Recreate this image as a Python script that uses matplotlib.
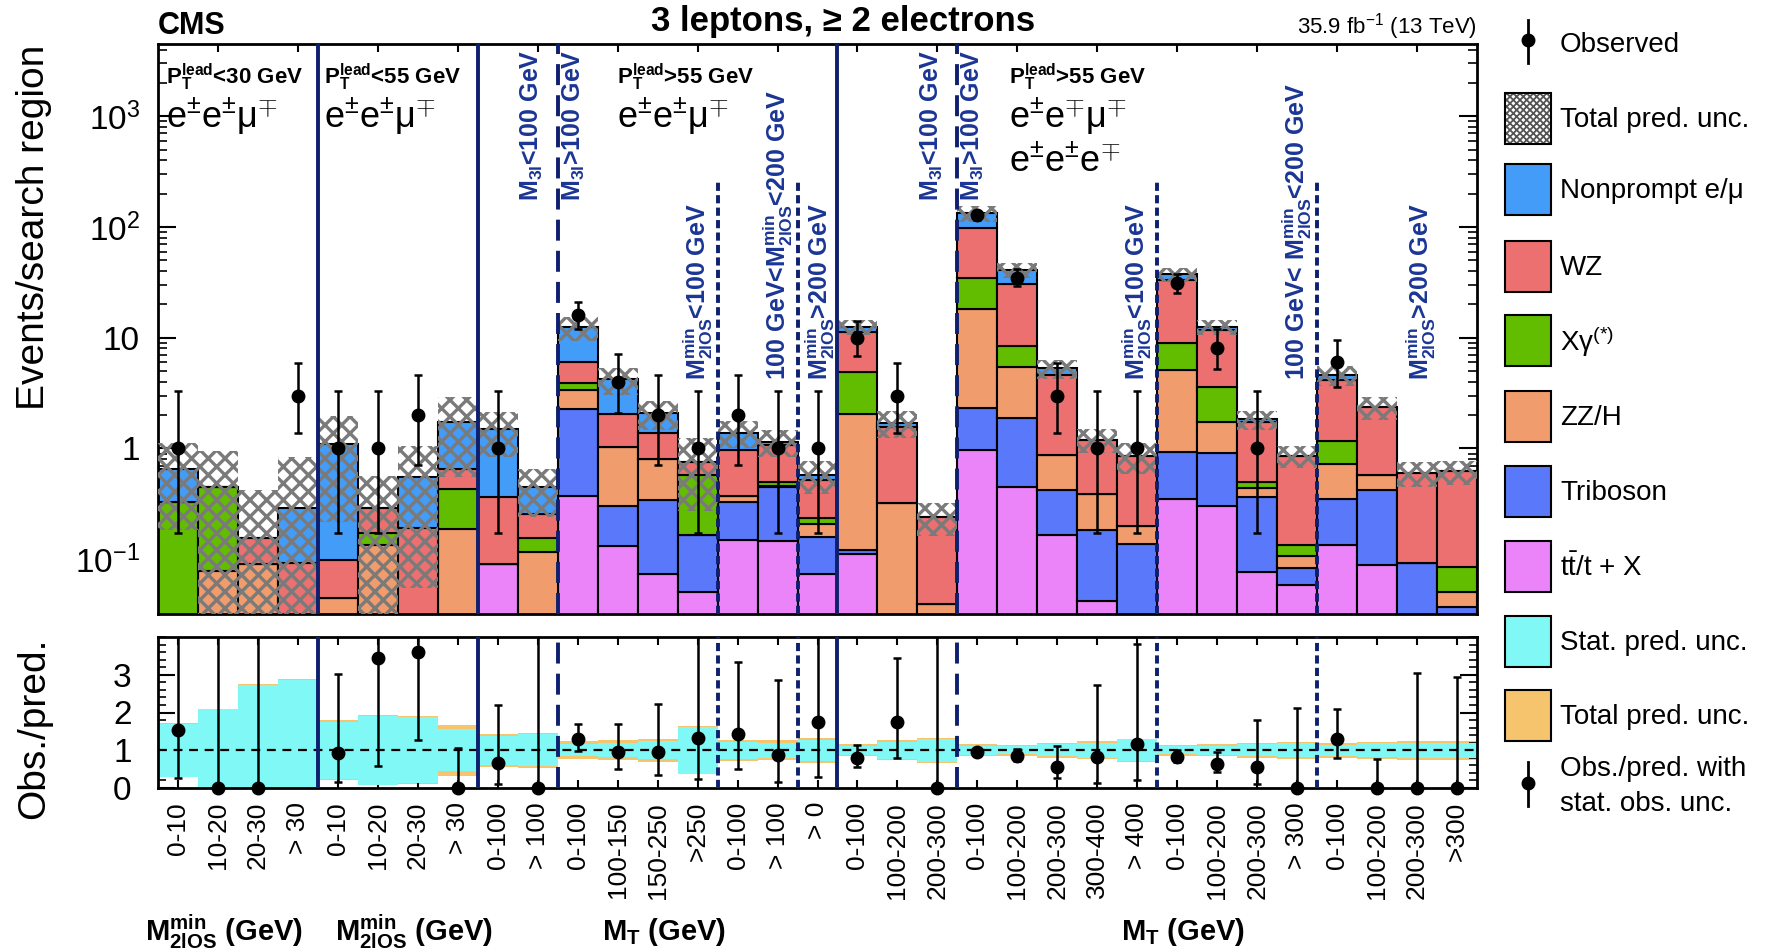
import numpy as np
import matplotlib
matplotlib.use("Agg")
import matplotlib.pyplot as plt
import matplotlib.transforms as mtransforms
from matplotlib.patches import Rectangle
from matplotlib.ticker import FixedLocator, FuncFormatter, LogLocator, MultipleLocator, NullFormatter

plt.rcParams["font.family"] = ["Liberation Sans", "DejaVu Sans"]
plt.rcParams["mathtext.fontset"] = "custom"
plt.rcParams["mathtext.rm"] = "Liberation Sans"
plt.rcParams["mathtext.it"] = "Liberation Sans:italic"
plt.rcParams["mathtext.bf"] = "Liberation Sans:bold"
plt.rcParams["hatch.linewidth"] = 2.4

# ---- data ----
bin_labels = ["0-10", "10-20", "20-30", "> 30",
              "0-10", "10-20", "20-30", "> 30",
              "0-100", "> 100",
              "0-100", "100-150", "150-250", ">250",
              "0-100", "> 100", "> 0",
              "0-100", "100-200", "200-300",
              "0-100", "100-200", "200-300", "300-400", "> 400",
              "0-100", "100-200", "200-300", "> 300",
              "0-100", "100-200", "200-300", ">300"]

observed = [1, 0, 0, 3, 1, 1, 2, 0, 1, 0, 16, 4, 2, 1, 2, 1, 1, 10, 3, 0,
            128, 35, 3, 1, 1, 31, 8, 1, 0, 6, 0, 0, 0]

ttx = [0, 0, 0, 0, 0, 0, 0, 0, 0.09, 0, 0.37, 0.13, 0.072, 0.05, 0.149, 0.144, 0.073,
       0.11, 0, 0, 0.96, 0.45, 0.164, 0.041, 0, 0.35, 0.30, 0.075, 0.058, 0.133, 0.087, 0.02, 0]
triboson = [0, 0, 0, 0, 0, 0, 0, 0, 0, 0, 1.91, 0.17, 0.268, 0.115, 0.181, 0.301, 0.086,
            0.011, 0, 0, 1.34, 1.43, 0.256, 0.142, 0.136, 0.58, 0.61, 0.285, 0.024, 0.217, 0.333, 0.071, 0.036]
zzh = [0, 0.077, 0.09, 0, 0.044, 0.132, 0, 0.187, 0, 0.115, 1.09, 0.72, 0.46, 0, 0.04, 0.01, 0.047,
       1.909, 0.32, 0.038, 16.0, 3.62, 0.45, 0.207, 0.064, 4.17, 0.82, 0.08, 0.023, 0.38, 0.16, 0, 0.014]
xgamma = [0.33, 0.373, 0, 0, 0, 0.039, 0, 0.24, 0, 0.041, 0.53, 0, 0, 0.41, 0, 0.045, 0.028,
          2.9, 0, 0, 16.7, 2.9, 0, 0, 0, 3.8, 1.87, 0.06, 0.029, 0.44, 0, 0, 0.034]
wz = [0, 0, 0.064, 0.092, 0.054, 0.119, 0.19, 0.223, 0.27, 0.098, 2.1, 1.02, 0.57, 0.185, 0.60, 0.57, 0.286,
      6.37, 1.25, 0.203, 63.0, 22.2, 3.73, 0.81, 0.66, 24.1, 8.2, 1.23, 0.726, 2.98, 1.77, 0.509, 0.536]
nonprompt = [0.32, 0, 0, 0.198, 0.992, 0, 0.365, 1.09, 1.13, 0.196, 6.4, 2.16, 0.71, 0, 0.42, 0.08, 0.055,
             1.2, 0.14, 0, 35.0, 10.4, 0.7, 0, 0, 4.3, 0.7, 0.1, 0, 0.45, 0, 0, 0]

# relative half-widths of the prediction bands (ratio panel)
stat_unc = [0.70, 1.08, 1.74, 1.86, 0.76, 0.91, 0.88, 0.56, 0.38, 0.42, 0.16, 0.19, 0.24, 0.62, 0.22, 0.20, 0.28,
            0.12, 0.22, 0.31, 0.12, 0.10, 0.16, 0.20, 0.29, 0.10, 0.12, 0.16, 0.18, 0.15, 0.18, 0.20, 0.20]
total_unc = [0.72, 1.10, 1.76, 1.88, 0.80, 0.93, 0.90, 0.68, 0.44, 0.46, 0.24, 0.27, 0.30, 0.64, 0.28, 0.27, 0.33,
             0.16, 0.27, 0.33, 0.16, 0.15, 0.20, 0.24, 0.31, 0.15, 0.16, 0.20, 0.22, 0.20, 0.23, 0.25, 0.25]

# region boundaries (bin index)
solid_at = [4, 8, 17]
longdash_at = [10, 20]
shortdash_at = [14, 16, 25, 29]

C_NP = "#429cf8"
C_WZ = "#ec7070"
C_XG = "#62bd00"
C_ZZ = "#f09c6c"
C_TRI = "#5a78fa"
C_TTX = "#ea84f8"
C_STAT = "#80f8f6"
C_TOT = "#f7c46e"
NAVY = "#0d1f6e"
NAVY_TXT = "#1a3594"

stack = [(ttx, C_TTX), (triboson, C_TRI), (zzh, C_ZZ),
         (xgamma, C_XG), (wz, C_WZ), (nonprompt, C_NP)]


def poisson_interval(n):
    n = np.asarray(n, float)
    nn = np.maximum(n, 1)
    lo = np.where(n > 0, nn * (1 - 1 / (9 * nn) - 1 / (3 * np.sqrt(nn))) ** 3, 0.0)
    m = n + 1
    hi = m * (1 - 1 / (9 * m) + 1 / (3 * np.sqrt(m))) ** 3
    return lo, hi


W, H = 1771, 950
fig = plt.figure(figsize=(W / 100, H / 100), dpi=100)


def box(l, t, r, b):
    return [l / W, 1 - b / H, (r - l) / W, (b - t) / H]


ax = fig.add_axes(box(158, 44, 1477, 614))
rax = fig.add_axes(box(158, 637, 1477, 788))

n = len(observed)
left = np.arange(n)
x = left + 0.5
floor = 1e-3
YMIN, YMAX = 0.032, 4500

# ---- main panel: stacked prediction ----
cum = np.full(n, floor)
for vals, col in stack:
    v = np.asarray(vals, float)
    ax.bar(left, v, width=1, bottom=cum, align="edge", color=col,
           edgecolor="black", linewidth=1.5, zorder=2)
    cum = cum + v
pred = cum - floor

tot = np.asarray(total_unc)
stat = np.asarray(stat_unc)
lo_band = np.clip(pred * (1 - tot), floor, None)
hi_band = pred * (1 + tot)
ax.bar(left, hi_band - lo_band, bottom=lo_band, width=1, align="edge",
       facecolor="none", edgecolor="#7a7a7a", hatch="xx", linewidth=0, zorder=3)

obs = np.asarray(observed, float)
p_lo, p_hi = poisson_interval(obs)
m = obs > 0
ax.errorbar(x[m], obs[m], yerr=[obs[m] - p_lo[m], p_hi[m] - obs[m]], fmt="o",
            color="black", ms=9, elinewidth=1.8, capsize=3, capthick=1.8, zorder=6)

ax.set_yscale("log")
ax.set_xlim(0, n)
ax.set_ylim(YMIN, YMAX)

for b in solid_at:
    ax.axvline(b, color=NAVY, lw=2.8, zorder=4)
    rax.axvline(b, color=NAVY, lw=2.8, zorder=4)
for b in longdash_at:
    ax.axvline(b, color=NAVY, lw=2.8, ls=(0, (5.4, 2.6)), zorder=4)
    rax.axvline(b, color=NAVY, lw=2.8, ls=(0, (5.4, 2.6)), zorder=4)
for b in shortdash_at:
    ax.plot([b, b], [YMIN, 260], color=NAVY, lw=2.8, ls=(0, (2.1, 1.1)), zorder=4)
    rax.axvline(b, color=NAVY, lw=2.8, ls=(0, (2.1, 1.1)), zorder=4)

ax.xaxis.set_major_locator(FixedLocator(np.arange(1, n, 2) + 0.5))
ax.tick_params(axis="x", which="both", direction="in", top=True, bottom=True,
               length=6, width=1.5, labelbottom=False)
ax.yaxis.set_major_locator(LogLocator(base=10, numticks=10))
ax.yaxis.set_minor_locator(LogLocator(base=10, subs=np.arange(2, 10), numticks=20))
ax.yaxis.set_minor_formatter(NullFormatter())
ylab = {0.1: r"$10^{-1}$", 1: "1", 10: "10", 100: r"$10^{2}$", 1000: r"$10^{3}$"}
ax.yaxis.set_major_formatter(FuncFormatter(
    lambda v, p: next((s for k, s in ylab.items() if abs(v - k) < 1e-6 * k), "")))
ax.tick_params(axis="y", which="major", direction="in", left=True, right=True,
               length=13, width=1.5, labelsize=24, pad=13)
ax.tick_params(axis="y", which="minor", direction="in", left=True, right=True,
               length=6.5, width=1.2)
for s in ax.spines.values():
    s.set_linewidth(2)

# region annotations
tr = mtransforms.blended_transform_factory(ax.transData, ax.transAxes)
pt_lab = [(0.2, "<30 GeV"), (4.15, "<55 GeV"), (11.48, ">55 GeV"), (21.3, ">55 GeV")]
for bx, cut in pt_lab:
    ax.text(bx, 0.942, r"$\mathbf{P_T^{lead}}$" + cut, transform=tr, fontsize=16,
            fontweight="bold", ha="left", va="center", zorder=7)
chan = [(0.2, 0.874, r"$\mathrm{e^{\pm}e^{\pm}\mu^{\mp}}$"),
        (4.15, 0.874, r"$\mathrm{e^{\pm}e^{\pm}\mu^{\mp}}$"),
        (11.48, 0.874, r"$\mathrm{e^{\pm}e^{\pm}\mu^{\mp}}$"),
        (21.3, 0.874, r"$\mathrm{e^{\pm}e^{\mp}\mu^{\mp}}$"),
        (21.3, 0.794, r"$\mathrm{e^{\pm}e^{\pm}e^{\mp}}$")]
for bx, by, s in chan:
    ax.text(bx, by, s, transform=tr, fontsize=26, ha="left", va="center", zorder=7)

m3l = [(9.35, r"$\mathbf{M_{3l}}$<100 GeV"), (10.4, r"$\mathbf{M_{3l}}$>100 GeV"),
       (19.35, r"$\mathbf{M_{3l}}$<100 GeV"), (20.4, r"$\mathbf{M_{3l}}$>100 GeV")]
for bx, s in m3l:
    ax.text(bx, 0.725, s, transform=tr, rotation=90, fontsize=18, fontweight="bold",
            color=NAVY_TXT, ha="center", va="bottom", zorder=7)
mos = [(13.5, r"$\mathbf{M^{min}_{2lOS}}$<100 GeV"),
       (15.5, r"100 GeV<$\mathbf{M^{min}_{2lOS}}$<200 GeV"),
       (16.55, r"$\mathbf{M^{min}_{2lOS}}$>200 GeV"),
       (24.5, r"$\mathbf{M^{min}_{2lOS}}$<100 GeV"),
       (28.5, r"100 GeV< $\mathbf{M^{min}_{2lOS}}$<200 GeV"),
       (31.6, r"$\mathbf{M^{min}_{2lOS}}$>200 GeV")]
for bx, s in mos:
    ax.text(bx, 0.41, s, transform=tr, rotation=90, fontsize=18, fontweight="bold",
            color=NAVY_TXT, ha="center", va="bottom", zorder=7)

# ---- ratio panel ----
rax.bar(left, 2 * tot, bottom=1 - tot, width=1, align="edge", color=C_TOT, linewidth=0, zorder=1)
rax.bar(left, 2 * stat, bottom=1 - stat, width=1, align="edge", color=C_STAT, linewidth=0, zorder=2)
rax.axhline(1, color="black", lw=1.6, ls=(0, (4, 3)), zorder=3)

ratio = obs / pred
r_lo = p_lo / pred
r_hi = p_hi / pred
rax.errorbar(x, ratio, yerr=[ratio - r_lo, r_hi - ratio], fmt="none", ecolor="black",
             elinewidth=1.8, capsize=3, capthick=1.8, zorder=5)
inside = ratio <= 4
rax.plot(x[inside], ratio[inside], "o", color="black", ms=9, clip_on=False, zorder=6)

rax.set_xlim(0, n)
rax.set_ylim(0, 4)
rax.set_xticks(x)
rax.set_xticklabels(bin_labels, rotation=90, fontsize=19, va="top", ha="center")
rax.tick_params(axis="x", direction="in", top=True, bottom=True, length=6, width=1.5, pad=10)
rax.set_yticks([0, 1, 2, 3])
rax.yaxis.set_minor_locator(MultipleLocator(0.2))
rax.tick_params(axis="y", which="major", direction="in", left=True, right=True,
                length=12, width=1.5, labelsize=24, pad=19)
rax.tick_params(axis="y", which="minor", direction="in", left=True, right=True,
                length=6, width=1.2)
for s in rax.spines.values():
    s.set_linewidth(2)

rtr = mtransforms.blended_transform_factory(rax.transData, rax.transAxes)
grp = [(1.65, r"$\mathbf{M^{min}_{2lOS}}$ (GeV)"), (6.4, r"$\mathbf{M^{min}_{2lOS}}$ (GeV)"),
       (12.65, r"$\mathbf{M_T}$ (GeV)"), (25.65, r"$\mathbf{M_T}$ (GeV)")]
for bx, s in grp:
    rax.text(bx, -0.954, s, transform=rtr, fontsize=21, fontweight="bold",
             ha="center", va="center")

# ---- figure texts ----
fig.text(34 / W, 1 - 45 / H, "Events/search region", rotation=90, fontsize=28,
         ha="center", va="top")
fig.text(34 / W, 1 - 638 / H, "Obs./pred.", rotation=90, fontsize=28, ha="center", va="top")
fig.text(158 / W, 1 - 34 / H, "CMS", fontsize=22, fontweight="bold", ha="left", va="baseline")
fig.text(843 / W, 1 - 31 / H, "3 leptons, \u2265 2 electrons", fontsize=25,
         fontweight="bold", ha="center", va="baseline")
fig.text(1477 / W, 1 - 33 / H, r"35.9 fb$^{-1}$ (13 TeV)", fontsize=16,
         ha="right", va="baseline")

# ---- legend (pixel coordinates) ----
lax = fig.add_axes([0, 0, 1, 1], zorder=10)
lax.set_xlim(0, W)
lax.set_ylim(H, 0)
lax.axis("off")
BX0, BW, BH, TX = 1505, 46, 51, 1560
mx = BX0 + BW / 2

lax.plot([mx, mx], [20, 63], color="black", lw=2)
lax.plot(mx, 40, "o", color="black", ms=9)
lax.text(TX, 45, "Observed", fontsize=20, va="center")

hbox = Rectangle((BX0, 118 - BH / 2), BW, BH, facecolor="white",
                 edgecolor="#555555", hatch="xxxxx", linewidth=0)
if hasattr(hbox, "set_hatch_linewidth"):
    hbox.set_hatch_linewidth(1.3)
lax.add_patch(hbox)
lax.add_patch(Rectangle((BX0, 118 - BH / 2), BW, BH, fill=False, edgecolor="black", linewidth=1.5))
lax.text(TX, 120, "Total pred. unc.", fontsize=20, va="center")

entries = [(189, C_NP, "Nonprompt e/\u03bc"), (266, C_WZ, "WZ"),
           (340, C_XG, r"X$\mathrm{\gamma}^{(*)}$"), (416, C_ZZ, "ZZ/H"),
           (491, C_TRI, "Triboson"), (566, C_TTX, r"t$\bar{\mathrm{t}}$/t + X"),
           (641, C_STAT, "Stat. pred. unc."), (715, C_TOT, "Total pred. unc.")]
for yc, col, lab in entries:
    lax.add_patch(Rectangle((BX0, yc - BH / 2), BW, BH, facecolor=col,
                            edgecolor="black", linewidth=1.5))
    lax.text(TX, yc + 2, lab, fontsize=20, va="center")

lax.plot([mx, mx], [762, 806], color="black", lw=2)
lax.plot(mx, 783, "o", color="black", ms=9)
lax.text(TX, 769, "Obs./pred. with", fontsize=20, va="center")
lax.text(TX, 804, "stat. obs. unc.", fontsize=20, va="center")

fig.savefig("out.png", dpi=100)
